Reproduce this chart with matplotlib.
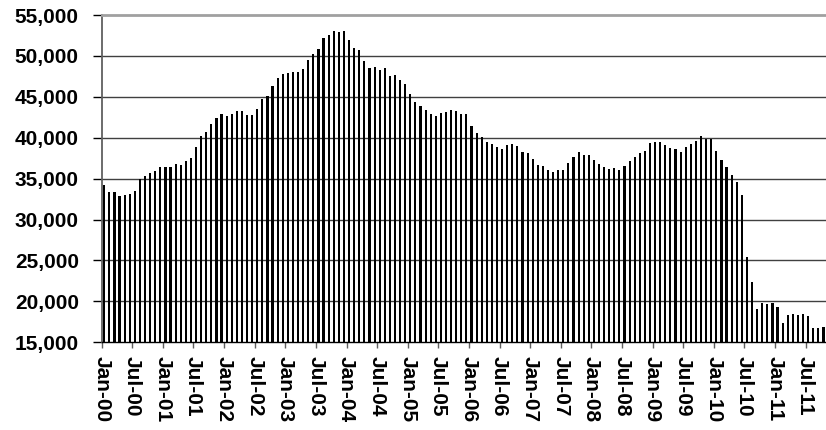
import matplotlib
matplotlib.use("Agg")
import matplotlib.pyplot as plt
import numpy as np

# monthly values Jan-2000 .. Oct-2011
values = [
    34230, 33410, 33370, 32885, 33010, 33090, 33500, 34930, 35330, 35740, 35900, 36390,
    36390, 36390, 36800, 36640, 37130, 37500, 38870, 40180, 40710, 41690, 42380, 42950,
    42700, 42870, 43310, 43240, 42750, 42750, 43520, 44740, 45150, 46300, 47350, 47800,
    47960, 48000, 48080, 48370, 49470, 50240, 50890, 52160, 52570, 53060, 52930, 53100,
    51920, 51020, 50730, 49390, 48530, 48690, 48330, 48570, 47520, 47640, 47030, 46620,
    45350, 44340, 43930, 43400, 42870, 42630, 43000, 43150, 43360, 43280, 42910, 42870,
    41440, 40550, 40100, 39490, 39280, 38910, 38670, 39120, 39200, 39000, 38230, 38100,
    37370, 36710, 36520, 36030, 35860, 36030, 36030, 36920, 37650, 38260, 37930, 37860,
    37290, 36760, 36430, 36220, 36350, 36060, 36590, 37160, 37610, 38140, 38390, 39330,
    39530, 39450, 39160, 38750, 38630, 38260, 38840, 39240, 39610, 40220, 39890, 39810,
    38390, 37290, 36430, 35420, 34630, 32970, 25460, 22370, 19070, 19840, 19680, 19770,
    19280, 17400, 18340, 18460, 18380, 18420, 18220, 16710, 16710, 16910,
]

months = ["Jan", "Feb", "Mar", "Apr", "May", "Jun", "Jul", "Aug", "Sep", "Oct", "Nov", "Dec"]
labels = ["%s-%02d" % (months[i % 12], i // 12) for i in range(len(values))]

yticks = [15000, 20000, 25000, 30000, 35000, 40000, 45000, 50000, 55000]

plt.rcParams['font.family'] = ['Liberation Sans', 'DejaVu Sans']

fig = plt.figure(figsize=(8.26, 4.30), dpi=100)
ax = fig.add_axes([0.1231, 0.204, 0.8769, 0.7611])

x = np.arange(len(values))
ax.bar(x, np.array(values) - 15000, bottom=15000, width=0.42, color='black', zorder=3)

ax.set_xlim(-0.5, len(values) - 0.5)
ax.set_ylim(15000, 55000)

ax.set_yticks(yticks)
ax.set_yticklabels(["{:,}".format(v) for v in yticks], fontsize=15, fontweight='bold')
for v in yticks[1:-1]:
    ax.axhline(v, color='#404040', lw=1.0, zorder=1)

# ticks on month boundaries every 6 months
pos = x[::6]
ax.set_xticks(pos - 0.5)
ax.set_xticklabels([labels[i] for i in pos], rotation=-90, fontsize=15,
                   fontweight='bold', va='top', ha='center')

ax.tick_params(axis='y', length=6.5, width=1, pad=10, colors='black')
ax.tick_params(axis='x', length=4, width=1, pad=6, color='#606060')

ax.spines['top'].set_color('#a0a0a0')
ax.spines['top'].set_linewidth(2)
ax.spines['right'].set_visible(False)
ax.spines['left'].set_color('#606060')
ax.spines['left'].set_linewidth(1.3)
ax.spines['bottom'].set_color('black')
ax.spines['bottom'].set_linewidth(1)

fig.savefig("out.png", dpi=100)
